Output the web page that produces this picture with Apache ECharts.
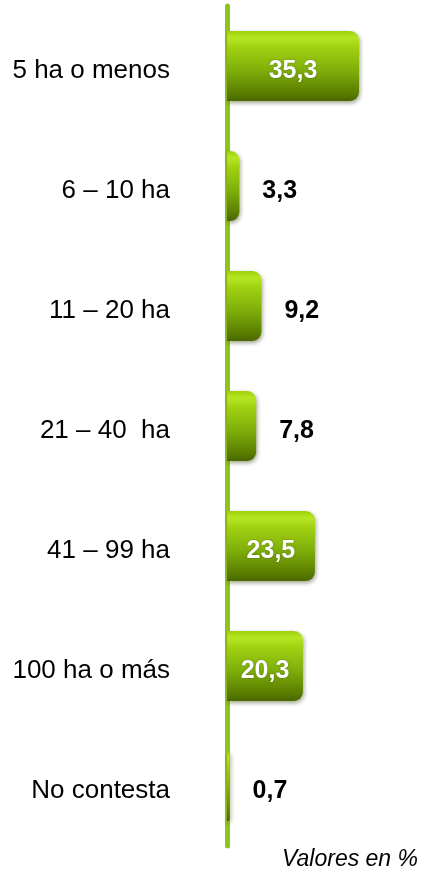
<!DOCTYPE html>
<html>
<head>
<meta charset="utf-8">
<script src="https://cdn.jsdelivr.net/npm/echarts@6/dist/echarts.min.js"></script>
<style>
html,body{margin:0;padding:0;background:#fff;}
#c{width:425px;height:872px;}
</style>
</head>
<body>
<div id="c"></div>
<script>
const categories = ['5 ha o menos', '6 – 10 ha', '11 – 20 ha', '21 – 40  ha', '41 – 99 ha', '100 ha o más', 'No contesta'];
const values = [35.3, 3.3, 9.2, 7.8, 23.5, 20.3, 0.7];
const insideThreshold = 15;
const noteText = 'Valores en %';

const font = '"Liberation Sans", Arial, sans-serif';
const barColor = new echarts.graphic.LinearGradient(0, 0, 0, 1, [
  {offset: 0, color: '#9dcf0a'},
  {offset: 0.1, color: '#b6e623'},
  {offset: 0.22, color: '#a2d312'},
  {offset: 0.55, color: '#80b00a'},
  {offset: 0.88, color: '#5b7f00'},
  {offset: 1, color: '#4a6600'}
]);

const chart = echarts.init(document.getElementById('c'));
chart.setOption({
  animation: false,
  backgroundColor: '#ffffff',
  grid: {left: 227, right: 11, top: 6, bottom: 26, containLabel: false},
  xAxis: {type: 'value', min: 0, max: 50, show: false},
  yAxis: {
    type: 'category',
    data: categories,
    inverse: true,
    axisLine: {show: true, lineStyle: {color: '#8fc418', width: 5}},
    axisTick: {show: false},
    axisLabel: {
      margin: 57,
      formatter: v => '{a|' + v + '}',
      rich: {
        a: {
          color: '#000',
          fontFamily: font,
          fontSize: 26,
          lineHeight: 26,
          padding: [10, 0, 0, 0]
        }
      }
    }
  },
  series: [{
    type: 'bar',
    barWidth: 70,
    z: 3,
    data: values.map(v => ({
      value: v,
      label: v >= insideThreshold
        ? {position: 'inside', color: '#fff', textShadowColor: 'rgba(0,0,0,0.35)', textShadowBlur: 2}
        : {position: 'right', distance: 23, color: '#000'}
    })),
    itemStyle: {
      color: barColor,
      borderRadius: [0, 9, 9, 0],
      shadowColor: 'rgba(40,50,0,0.45)',
      shadowBlur: 4,
      shadowOffsetX: 1,
      shadowOffsetY: 2
    },
    label: {
      show: true,
      fontFamily: font,
      fontSize: 25,
      fontWeight: 'bold',
      offset: [0, 5],
      formatter: p => p.value.toFixed(1).replace('.', ',')
    }
  }],
  graphic: [{
    type: 'text',
    right: 7,
    top: 848,
    style: {
      text: noteText,
      fontFamily: font,
      fontSize: 23,
      fontStyle: 'italic',
      fill: '#000'
    }
  }]
});
</script>
</body>
</html>
